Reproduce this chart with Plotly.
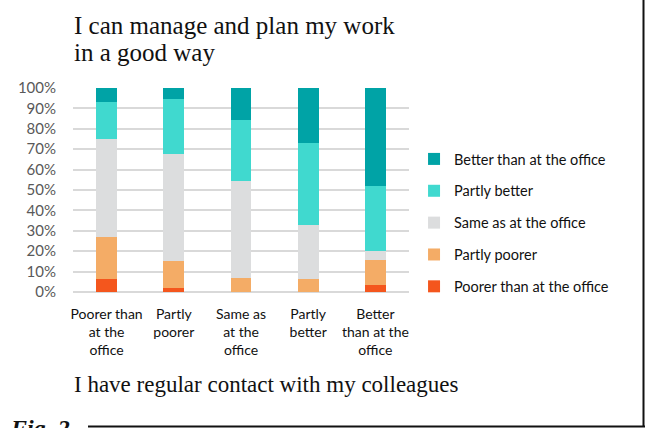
import plotly.graph_objects as go

# Answer categories on the x axis (how the respondent rates regular contact with colleagues)
categories = [
    "Poorer than<br>at the<br>office",
    "Partly<br>poorer",
    "Same as<br>at the<br>office",
    "Partly<br>better",
    "Better<br>than at the<br>office",
]

# Share of answers (%) to "I can manage and plan my work in a good way"
poorer = [6.5, 2.0, 0.0, 0.0, 3.5]
partly_poorer = [20.5, 13.0, 7.0, 6.5, 12.0]
same = [48.0, 52.5, 47.5, 26.5, 4.5]
partly_better = [18.0, 27.0, 30.0, 40.0, 32.0]
better = [7.0, 5.5, 15.5, 27.0, 48.0]

series_names = [
    "Poorer than at the office",
    "Partly poorer",
    "Same as at the office",
    "Partly better",
    "Better than at the office",
]
series_values = [poorer, partly_poorer, same, partly_better, better]
series_colors = ["#F4561D", "#F4AC66", "#DCDDDE", "#40D9CF", "#00A3A6"]

W, H = 645, 428
L, R, T, B = 73, 236, 88, 136
plot_w = W - L - R
plot_h = H - T - B


def px_x(p):
    return (p - L) / plot_w


def px_y(p):
    return (H - B - p) / plot_h


fig = go.Figure()
n = len(series_names)
for i, (name, vals, col) in enumerate(zip(series_names, series_values, series_colors)):
    fig.add_trace(go.Bar(
        x=categories,
        y=[v / 100 for v in vals],
        name=name,
        legendgroup=name,
        legendrank=1000 + (n - i),  # top of the stack first in the legend
        marker=dict(color=col, line=dict(width=0)),
        width=0.31,
    ))

sans = "Lato, 'Open Sans', sans-serif"
serif = "'Liberation Serif', 'DejaVu Serif', serif"

fig.update_layout(
    width=W, height=H,
    margin=dict(l=L, r=R, t=T, b=B),
    paper_bgcolor="white", plot_bgcolor="white",
    barmode="stack",
    showlegend=True,
    legend=dict(
        traceorder="grouped",
        x=1.015, xanchor="left",
        y=px_y(143), yanchor="top",
        font=dict(family=sans, size=14.5, color="#111111"),
        tracegroupgap=10,
        itemwidth=30,
        bgcolor="rgba(0,0,0,0)",
    ),
    xaxis=dict(
        showgrid=False, showline=False, zeroline=False,
        tickfont=dict(family=sans, size=14, color="#111111"),
        ticks="", ticklabelstandoff=12,
    ),
    yaxis=dict(
        range=[0, 1], dtick=0.1, tickformat=".0%",
        showgrid=True, gridcolor="#D9D9D9", gridwidth=1.5,
        zeroline=True, zerolinecolor="#D9D9D9", zerolinewidth=1.5,
        showline=False, ticks="",
        tickfont=dict(family=sans, size=15, color="#595959"),
        ticklabelstandoff=16,
    ),
    annotations=[
        dict(text="I can manage and plan my work", xref="paper", yref="paper",
             x=px_x(72), y=px_y(41), xanchor="left", yanchor="bottom",
             showarrow=False, font=dict(family=serif, size=25, color="#111111")),
        dict(text="in a good way", xref="paper", yref="paper",
             x=px_x(72), y=px_y(68), xanchor="left", yanchor="bottom",
             showarrow=False, font=dict(family=serif, size=25, color="#111111")),
        dict(text="I have regular contact with my colleagues", xref="paper", yref="paper",
             x=px_x(72), y=px_y(370), xanchor="left", yanchor="top",
             showarrow=False, font=dict(family=serif, size=23, color="#111111")),
        dict(text="<b><i>Fig. 2</i></b>", xref="paper", yref="paper",
             x=px_x(8), y=px_y(413), xanchor="left", yanchor="top",
             showarrow=False, font=dict(family=serif, size=24, color="#111111")),
    ],
    shapes=[
        dict(type="line", xref="paper", yref="paper",
             x0=px_x(88), x1=px_x(645), y0=px_y(426.5), y1=px_y(426.5),
             line=dict(color="#111111", width=2)),
        dict(type="line", xref="paper", yref="paper",
             x0=px_x(643.5), x1=px_x(643.5), y0=px_y(0), y1=px_y(427),
             line=dict(color="#111111", width=2)),
    ],
)

fig.write_html("out.html")
